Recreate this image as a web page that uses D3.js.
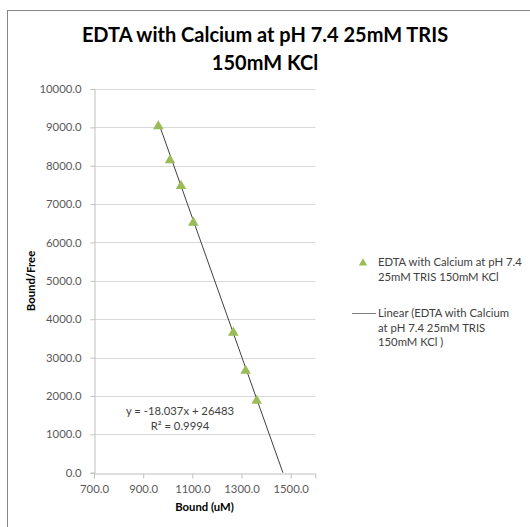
<!DOCTYPE html>
<html>
<head>
<meta charset="utf-8">
<script src="https://cdn.jsdelivr.net/npm/d3@7"></script>
<style>
  body { margin: 0; background: #fff; }
  text { font-family: Lato, "Open Sans", sans-serif; }
</style>
</head>
<body>
<svg id="chart" width="530" height="527"></svg>
<script>
// Data
const bound = [961.5, 1009, 1053.8, 1103.9, 1266.5, 1316.7, 1361.6];
const boundFree = [9030, 8144, 7472, 6516, 3649, 2658, 1876];
const slope = -18.037;
const intercept = 26483;
const rSquared = "0.9994";

const xTicks = [700, 900, 1100, 1300, 1500];
const yTicks = [0, 1000, 2000, 3000, 4000, 5000, 6000, 7000, 8000, 9000, 10000];

const titleLines = ["EDTA with Calcium at pH 7.4 25mM TRIS", "150mM KCl"];
const seriesLegend = ["EDTA with Calcium at pH 7.4", "25mM TRIS 150mM KCl"];
const trendLegend = ["Linear (EDTA with Calcium", "at pH 7.4 25mM TRIS", "150mM KCl )"];

const svg = d3.select("#chart");

// Chart area border (runs off the right and bottom edge)
svg.append("rect")
  .attr("x", 7.5).attr("y", 10.5)
  .attr("width", 600).attr("height", 600)
  .attr("fill", "#fff")
  .attr("stroke", "#868686");

const plot = { left: 94, right: 315.3, top: 89, bottom: 472.7 };

const x = d3.scaleLinear().domain([700, 1600]).range([plot.left, plot.right]);
const y = d3.scaleLinear().domain([0, 10000]).range([plot.bottom, plot.top]);

// Title
svg.append("text")
  .attr("text-anchor", "middle")
  .attr("font-weight", "bold")
  .attr("font-size", 20)
  .attr("fill", "#000")
  .selectAll("tspan")
  .data(titleLines)
  .join("tspan")
  .attr("x", 265)
  .attr("y", (d, i) => 42 + i * 28)
  .text((d) => d);

// Gridlines
svg.append("g")
  .selectAll("line")
  .data(yTicks.slice(1))
  .join("line")
  .attr("x1", plot.left).attr("x2", plot.right)
  .attr("y1", (d) => Math.round(y(d)) + 0.5)
  .attr("y2", (d) => Math.round(y(d)) + 0.5)
  .attr("stroke", "#d9d9d9");

// Y axis
const yAxis = svg.append("g")
  .attr("transform", `translate(${plot.left + 0.5},0)`)
  .call(d3.axisLeft(y).tickValues(yTicks).tickFormat(d3.format(".1f")).tickSize(4).tickPadding(9));
yAxis.select(".domain").attr("stroke", "#bfbfbf");
yAxis.selectAll(".tick line").attr("stroke", "#bfbfbf");
yAxis.selectAll(".tick text")
  .attr("font-family", "Lato, sans-serif")
  .attr("font-size", 11.3)
  .attr("fill", "#595959");

// X axis
const xAxis = svg.append("g")
  .attr("transform", `translate(0,${Math.round(plot.bottom) + 0.5})`)
  .call(d3.axisBottom(x).tickValues(xTicks).tickFormat(d3.format(".1f")).tickSize(5).tickPadding(6));
xAxis.select(".domain").attr("stroke", "#bfbfbf");
xAxis.selectAll(".tick line").attr("stroke", "#bfbfbf");
xAxis.selectAll(".tick text")
  .attr("font-family", "Lato, sans-serif")
  .attr("font-size", 11.3)
  .attr("fill", "#595959");

// Axis titles
svg.append("text")
  .attr("x", 204.5).attr("y", 511)
  .attr("text-anchor", "middle")
  .attr("font-weight", "bold")
  .attr("font-size", 11.3)
  .attr("fill", "#000")
  .text("Bound (uM)");

svg.append("text")
  .attr("transform", "translate(35,281) rotate(-90)")
  .attr("text-anchor", "middle")
  .attr("font-weight", "bold")
  .attr("font-size", 11.3)
  .attr("fill", "#000")
  .text("Bound/Free");

// Linear trendline, from the first point down to y = 0
const xStart = d3.min(bound);
const xEnd = -intercept / slope;
svg.append("line")
  .attr("x1", x(xStart)).attr("y1", y(slope * xStart + intercept))
  .attr("x2", x(xEnd)).attr("y2", y(slope * xEnd + intercept))
  .attr("stroke", "#404040")
  .attr("stroke-width", 1);

// Points
const tri = d3.symbol(d3.symbolTriangle, 48);
svg.append("g")
  .selectAll("path")
  .data(bound.map((b, i) => [b, boundFree[i]]))
  .join("path")
  .attr("d", tri)
  .attr("transform", (d) => `translate(${x(d[0])},${y(d[1])})`)
  .attr("fill", "#9bbb59");

// Trendline equation
svg.append("text")
  .attr("text-anchor", "middle")
  .attr("font-size", 11.3)
  .attr("fill", "#404040")
  .selectAll("tspan")
  .data([`y = ${slope}x + ${intercept}`, `R² = ${rSquared}`])
  .join("tspan")
  .attr("x", 180)
  .attr("y", (d, i) => 415 + i * 15)
  .text((d) => d);

// Legend
const legend = svg.append("g");
legend.append("path")
  .attr("d", d3.symbol(d3.symbolTriangle, 30))
  .attr("transform", "translate(363,263)")
  .attr("fill", "#9bbb59");
legend.append("text")
  .attr("font-size", 11.3)
  .attr("fill", "#404040")
  .selectAll("tspan")
  .data(seriesLegend)
  .join("tspan")
  .attr("x", 378)
  .attr("y", (d, i) => 266 + i * 14.5)
  .text((d) => d);

legend.append("line")
  .attr("x1", 352).attr("x2", 376)
  .attr("y1", 313.5).attr("y2", 313.5)
  .attr("stroke", "#808080");
legend.append("text")
  .attr("font-size", 11.3)
  .attr("fill", "#404040")
  .selectAll("tspan")
  .data(trendLegend)
  .join("tspan")
  .attr("x", 378)
  .attr("y", (d, i) => 317 + i * 14.5)
  .text((d) => d);
</script>
</body>
</html>
